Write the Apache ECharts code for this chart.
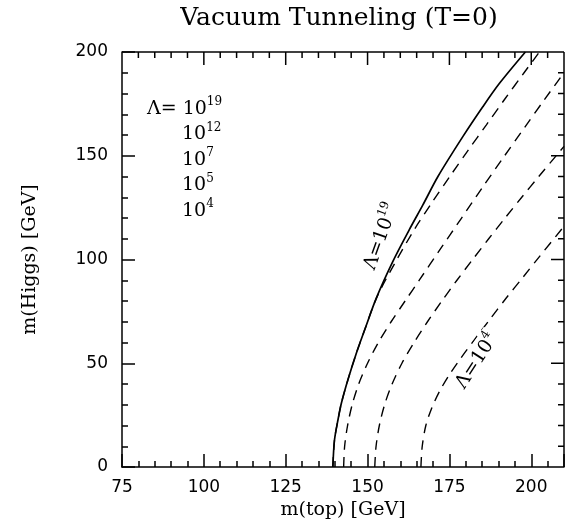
<!DOCTYPE html>
<html>
<head>
<meta charset="utf-8">
<title>Vacuum Tunneling (T=0)</title>
<script src="https://cdn.jsdelivr.net/npm/echarts@6/dist/echarts.min.js"></script>
<style>
  html, body { margin: 0; padding: 0; background: #fff; }
  #chart { width: 577px; height: 525px; }
</style>
</head>
<body>
<div id="chart"></div>
<script>
// tick labels
var topTickLabels = [75, 100, 125, 150, 175, 200];
var higgsTickLabels = [0, 50, 100, 150, 200];

// Lambda = 10^19 (solid)
var lam19Top   = [139.4, 139.9, 141.0, 142.0, 144.0, 146.5, 149.1, 152.7, 157.7, 162.8, 166.9, 171.5, 179.1, 185.2, 190.3, 198.2];
var lam19Higgs = [0, 13, 23, 30.7, 42, 54.5, 66, 81.5, 99, 114.5, 126.3, 140, 159.2, 173.6, 184.9, 200];

// Lambda = 10^12
var lam12Top   = [139.4, 139.9, 141.0, 142.0, 144.0, 146.5, 149.1, 152.9, 158.6, 164.3, 169.7, 175.2, 180.7, 186.3, 192.1, 197.8, 202.5];
var lam12Higgs = [0, 13, 23, 30.7, 42, 54.5, 66, 82, 99, 114.5, 127.5, 140.2, 152.6, 164.9, 177.7, 190, 200];

// Lambda = 10^7
var lam7Top   = [142.7, 143.0, 143.9, 145.3, 147.3, 150.0, 153.3, 157.2, 161.6, 166.0, 172.0, 178.5, 185.0, 191.5, 198.0, 204.0, 210.0];
var lam7Higgs = [0, 10, 20, 30, 40, 50, 60, 70, 80.3, 90.5, 104.5, 119.5, 134.5, 149.2, 163.7, 177, 190];

// Lambda = 10^5
var lam5Top   = [152.2, 152.6, 153.6, 155.2, 157.5, 160.5, 164.2, 168.3, 172.7, 177.3, 182.1, 187.0, 192.0, 197.1, 202.3, 207.6, 210.0];
var lam5Higgs = [0, 10, 20, 30, 40, 50, 60, 70, 80, 90, 100, 110, 120, 130, 140, 150, 154.5];

// Lambda = 10^4
var lam4Top   = [166.3, 166.7, 167.8, 169.5, 172.0, 175.0, 178.5, 182.5, 187.2, 192.3, 197.4, 202.5, 210.0];
var lam4Higgs = [0, 10, 20, 28, 36.5, 44.5, 52.5, 61, 70.8, 81.3, 91.3, 101.4, 116];

// legend rows (exponents of Lambda)
var legendExps = ['19', '12', '7', '5', '4'];

var chart = echarts.init(document.getElementById('chart'));

var serif = 'DejaVu Serif';
var sans = 'DejaVu Sans';
var black = { color: '#000', width: 1.5 };

function pairs(xs, ys) {
  return xs.map(function (x, i) { return [x, ys[i]]; });
}

function curve(name, xs, ys, dashed) {
  return {
    name: name,
    type: 'line',
    data: pairs(xs, ys),
    showSymbol: false,
    smooth: 0.3,
    silent: true,
    lineStyle: { color: '#000', width: dashed ? 1.4 : 1.7, type: dashed ? [10, 7] : 'solid' },
    z: dashed ? 3 : 2
  };
}

// bottom m(top) axis: major (labelled) or minor ticks
function topAxis(major) {
  return {
    type: 'value',
    position: 'bottom',
    min: 75,
    max: 210,
    interval: major ? 25 : 5,
    name: major ? 'm(top) [GeV]' : undefined,
    nameLocation: 'middle',
    nameGap: 32,
    nameTextStyle: { fontFamily: serif, fontSize: 19, color: '#000' },
    axisLine: { show: major, onZero: false, lineStyle: black },
    axisTick: { show: true, inside: true, length: major ? 13 : 6, lineStyle: black },
    axisLabel: {
      show: major,
      margin: 12,
      fontFamily: sans,
      fontSize: 17,
      color: '#000',
      formatter: function (v) { return topTickLabels.indexOf(v) >= 0 ? String(v) : ''; }
    },
    splitLine: { show: false }
  };
}

// left m(Higgs) axis
function higgsAxis(major) {
  return {
    type: 'value',
    position: 'left',
    min: 0,
    max: 200,
    interval: major ? 50 : 10,
    name: major ? 'm(Higgs) [GeV]' : undefined,
    nameLocation: 'middle',
    nameGap: 82,
    nameTextStyle: { fontFamily: serif, fontSize: 19, color: '#000' },
    axisLine: { show: major, onZero: false, lineStyle: black },
    axisTick: { show: true, inside: true, length: major ? 13 : 6, lineStyle: black },
    axisLabel: {
      show: major,
      margin: 14,
      fontFamily: sans,
      fontSize: 17,
      color: '#000',
      formatter: function (v) { return higgsTickLabels.indexOf(v) >= 0 ? String(v) : ''; }
    },
    splitLine: { show: false }
  };
}

chart.setOption({
  animation: false,
  backgroundColor: '#fff',
  grid: { left: 122, right: 13, top: 52, bottom: 58 },
  xAxis: [topAxis(true), topAxis(false)],
  yAxis: [higgsAxis(true), higgsAxis(false)],
  series: [
    curve('10^19', lam19Top, lam19Higgs, false),
    curve('10^12', lam12Top, lam12Higgs, true),
    curve('10^7', lam7Top, lam7Higgs, true),
    curve('10^5', lam5Top, lam5Higgs, true),
    curve('10^4', lam4Top, lam4Higgs, true)
  ]
});

var rich = {
  b: { fontFamily: serif, fontSize: 19, color: '#000' },
  s: { fontFamily: serif, fontSize: 12, color: '#000', padding: [0, 0, 14, 0] }
};

var graphics = [{
  type: 'text',
  style: {
    text: 'Vacuum Tunneling (T=0)',
    x: 339, y: 18,
    align: 'center', verticalAlign: 'middle',
    fontFamily: serif, fontSize: 25, fill: '#000'
  }
}];

legendExps.forEach(function (e, i) {
  graphics.push({
    type: 'text',
    style: {
      text: (i === 0 ? '{b|\u039b= 10}' : '{b|10}') + '{s|' + e + '}',
      rich: rich,
      x: i === 0 ? 147 : 182,
      y: 109 + i * 25.5,
      verticalAlign: 'middle'
    }
  });
});

function seg(x1, y1, x2, y2) {
  return {
    type: 'line',
    silent: true,
    shape: { x1: x1, y1: y1, x2: x2, y2: y2 },
    style: { stroke: '#000', lineWidth: 1.5 }
  };
}

// top and right frame with mirrored ticks, placed through the axis scales
function mirrorFrame() {
  var out = [];
  var xAt = function (v) { return chart.convertToPixel({ xAxisIndex: 0 }, v); };
  var yAt = function (v) { return chart.convertToPixel({ yAxisIndex: 0 }, v); };
  var fx0 = xAt(75), fx1 = xAt(210), fy0 = yAt(0), fy1 = yAt(200);
  out.push(seg(fx0, fy1, fx1, fy1));
  out.push(seg(fx1, fy1, fx1, fy0));
  for (var t = 80; t < 210; t += 5) {
    var tx = xAt(t);
    out.push(seg(tx, fy1, tx, fy1 + ((t - 75) % 25 === 0 ? 13 : 6)));
  }
  for (var h = 10; h < 200; h += 10) {
    var hy = yAt(h);
    out.push(seg(fx1 - (h % 50 === 0 ? 13 : 6), hy, fx1, hy));
  }
  return out;
}

graphics = graphics.concat(mirrorFrame());

function curveLabel(exp, at, deg) {
  var p = chart.convertToPixel({ xAxisIndex: 0, yAxisIndex: 0 }, at);
  return {
    type: 'text',
    x: p[0],
    y: p[1],
    rotation: deg * Math.PI / 180,
    z: 10,
    style: {
      text: '{b|\u039b=10}{s|' + exp + '}',
      rich: rich,
      align: 'center',
      verticalAlign: 'middle',
      backgroundColor: '#fff',
      padding: [0, 2]
    }
  };
}

graphics.push(curveLabel('19', [154.2, 111], 70));
graphics.push(curveLabel('4', [183.4, 51], 57));

chart.setOption({ graphic: graphics });
</script>
</body>
</html>
